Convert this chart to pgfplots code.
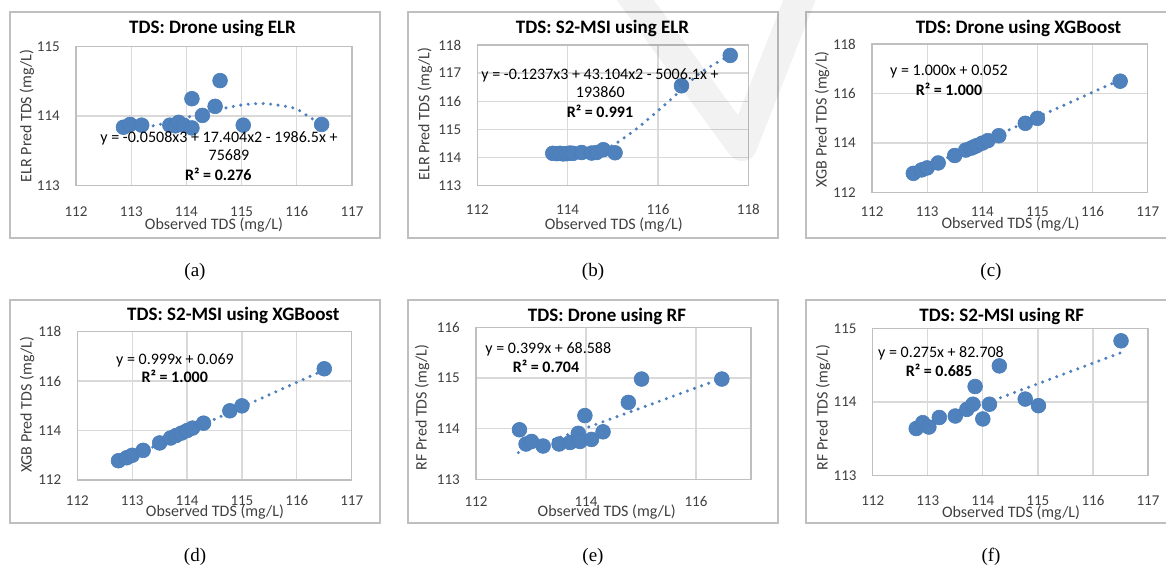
\documentclass[border=0pt]{standalone}
\usepackage{fontspec}
\setmainfont{Carlito}
\newfontfamily\capfont{Liberation Serif}
\usepackage{pgfplots}
\pgfplotsset{compat=1.18}

\definecolor{ptblue}{HTML}{4F81BD}
\definecolor{ptedge}{HTML}{4A7EBB}
\definecolor{framec}{HTML}{BFBFBF}
\definecolor{gridc}{HTML}{D9D9D9}
\definecolor{txt}{HTML}{404040}

\pgfplotsset{
  panel/.style={
    scale only axis, anchor=south west, clip=false,
    axis line style={draw=framec, line width=1.3pt},
    grid=major, grid style={draw=gridc, line width=1.3pt},
    major tick length=0pt,
    tick label style={font=\fontsize{15}{18}\selectfont, text=txt},
    /pgf/number format/assume math mode=true,
    yticklabel style={anchor=east, inner sep=0pt, xshift=-16pt},
    xticklabel style={anchor=base, inner sep=0pt, yshift=-#1},
  },
  pts/.style={only marks, mark=*, mark size=7.4pt,
    mark options={fill=ptblue, draw=ptedge, line width=0.6pt}},
  trend/.style={no marks, ptblue, line width=3.4pt, line cap=round,
    dash pattern=on 0pt off 7.5pt},
}
\tikzset{
  ttl/.style={font=\fontsize{19}{22}\selectfont\bfseries, anchor=base, inner sep=0pt},
  lab/.style={font=\fontsize{16}{19}\selectfont, text=txt, anchor=base, inner sep=0pt},
  eq/.style={font=\fontsize{16}{19}\selectfont, anchor=base, inner sep=0pt},
  subcap/.style={font=\capfont\fontsize{19}{22}\selectfont, anchor=base, inner sep=0pt},
  panelbox/.style={draw=framec, line width=2pt, fill=white},
}

\begin{document}
\begin{tikzpicture}[x=1pt, y=1pt]

% ---------- (a) Drone, ELR
\draw[panelbox] (10,328) rectangle (380,553.7);
\begin{axis}[panel=30.5pt, at={(76pt,380.3pt)}, width=276pt, height=139.2pt,
  xmin=112, xmax=117, ymin=113, ymax=115,
  xtick={112,...,117}, ytick={113,114,115}]
\addplot[pts] table {
x y
112.86 113.84
112.98 113.88
113.19 113.87
113.70 113.87
113.80 113.86
113.86 113.91
113.95 113.87
114.10 113.83
114.10 114.25
114.29 114.01
114.52 114.14
114.61 114.51
115.03 113.87
116.45 113.88
};
\addplot[trend, smooth] table {
x y
112.86 113.80
113.40 113.86
114.00 113.98
114.50 114.08
115.00 114.16
115.40 114.18
115.80 114.14
116.00 114.10
116.20 114.00
116.45 113.88
};
\end{axis}
\node[ttl] at (212.5,532.7) {TDS: Drone using ELR};
\node[lab] at (214,336.7) {Observed TDS (mg/L)};
\node[lab, rotate=90] at (31.5,450.2) {ELR Pred TDS (mg/L)};
\node[eq] at (219,423) {y = -0.0508x3 + 17.404x2 - 1986.5x +};
\node[eq] at (229,405.3) {75689};
\node[eq] at (218.3,385) {\textbf{R² = 0.276}};
\node[subcap] at (195,289.5) {(a)};

% ---------- (b) S2-MSI, ELR
\draw[panelbox] (408,328) rectangle (778,553.7);
\begin{axis}[panel=28.3pt, at={(477.3pt,380.3pt)}, width=271pt, height=140.7pt,
  xmin=112, xmax=118, ymin=113, ymax=118,
  xtick={112,114,116,118}, ytick={113,...,118}]
\addplot[pts] table {
x y
113.67 114.15
113.76 114.14
113.83 114.15
113.90 114.13
113.98 114.14
114.05 114.16
114.12 114.15
114.31 114.18
114.53 114.16
114.64 114.18
114.79 114.28
115.05 114.17
116.52 116.55
117.60 117.63
};
\addplot[trend, smooth] table {
x y
113.67 114.18
114.20 114.13
114.60 114.22
114.85 114.33
115.05 114.48
115.49 114.98
115.89 115.51
116.19 115.93
116.55 116.45
116.93 117.00
117.41 117.47
117.60 117.62
};
\end{axis}
\node[ttl] at (602.5,532.7) {TDS: S2-MSI using ELR};
\node[lab] at (613.8,336.7) {Observed TDS (mg/L)};
\node[lab, rotate=90] at (429.3,451.8) {ELR Pred TDS (mg/L)};
\node[eq] at (600,486.7) {y = -0.1237x3 + 43.104x2 - 5006.1x +};
\node[eq] at (600.3,468.3) {193860};
\node[eq] at (600,448.7) {\textbf{R² = 0.991}};
\node[subcap] at (593,289.5) {(b)};

% ---------- (c) Drone, XGBoost
\draw[panelbox] (806,328) rectangle (1176,553.7);
\begin{axis}[panel=23.3pt, at={(872pt,373.3pt)}, width=275.7pt, height=148.7pt,
  xmin=112, xmax=117, ymin=112, ymax=118,
  xtick={112,...,117}, ytick={112,114,116,118}]
\addplot[pts] table {
x y
112.75 112.78
112.90 112.92
113.00 113.00
113.20 113.20
113.50 113.50
113.70 113.72
113.80 113.80
113.85 113.85
113.90 113.90
114.00 114.00
114.10 114.10
114.30 114.30
114.78 114.80
115.00 115.00
116.50 116.50
};
\addplot[trend] table {
x y
112.75 112.80
116.50 116.55
};
\end{axis}
\node[ttl] at (1018.5,532.7) {TDS: Drone using XGBoost};
\node[lab] at (1010.5,337.7) {Observed TDS (mg/L)};
\node[lab, rotate=90] at (826.7,446.8) {XGB Pred TDS (mg/L)};
\node[eq] at (949,490) {y = 1.000x + 0.052};
\node[eq] at (949,470.3) {\textbf{R² = 1.000}};
\node[subcap] at (991,289.5) {(c)};

% ---------- (d) S2-MSI, XGBoost
\draw[panelbox] (10,43) rectangle (380,266);
\begin{axis}[panel=25pt, at={(77.3pt,86pt)}, width=274.4pt, height=148.3pt,
  xmin=112, xmax=117, ymin=112, ymax=118,
  xtick={112,...,117}, ytick={112,114,116,118}]
\addplot[pts] table {
x y
112.75 112.78
112.90 112.90
113.00 113.00
113.20 113.20
113.50 113.50
113.70 113.70
113.80 113.80
113.90 113.90
114.00 114.00
114.10 114.10
114.30 114.30
114.78 114.80
115.00 115.00
116.50 116.50
};
\addplot[trend] table {
x y
112.75 112.71
116.50 116.45
};
\end{axis}
\node[ttl] at (233.3,245.3) {TDS: S2-MSI using XGBoost};
\node[lab] at (215,49.3) {Observed TDS (mg/L)};
\node[lab, rotate=90] at (31.7,161) {XGB Pred TDS (mg/L)};
\node[eq] at (175,202) {y = 0.999x + 0.069};
\node[eq] at (174.7,183.7) {\textbf{R² = 1.000}};
\node[subcap] at (195,5) {(d)};

% ---------- (e) Drone, RF
\draw[panelbox] (408,43) rectangle (778,266);
\begin{axis}[panel=27pt, at={(476pt,86.5pt)}, width=275pt, height=152.2pt,
  xmin=112, xmax=117, ymin=113, ymax=116,
  xtick={112,114,116}, ytick={113,...,116}]
\addplot[pts] table {
x y
112.79 113.98
112.91 113.70
113.01 113.75
113.22 113.66
113.51 113.70
113.71 113.73
113.86 113.91
113.89 113.75
113.98 114.26
114.10 113.79
114.31 113.94
114.77 114.52
115.01 114.98
116.47 114.98
};
\addplot[trend] table {
x y
112.77 113.53
116.49 115.00
};
\end{axis}
\node[ttl] at (607,244.3) {TDS: Drone using RF};
\node[lab] at (606.7,49.3) {Observed TDS (mg/L)};
\node[lab, rotate=90] at (426.7,158.5) {RF Pred TDS (mg/L)};
\node[eq] at (548.3,212.7) {y = 0.399x + 68.588};
\node[eq] at (546,193.3) {\textbf{R² = 0.704}};
\node[subcap] at (593,5) {(e)};

% ---------- (f) S2-MSI, RF
\draw[panelbox] (806,43) rectangle (1176,266);
\begin{axis}[panel=29.3pt, at={(872.7pt,90.3pt)}, width=275.3pt, height=147.4pt,
  xmin=112, xmax=117, ymin=113, ymax=115,
  xtick={112,...,117}, ytick={113,114,115}]
\addplot[pts] table {
x y
112.79 113.64
112.91 113.72
113.02 113.66
113.21 113.79
113.50 113.81
113.71 113.90
113.82 113.97
113.86 114.21
114.00 113.77
114.12 113.97
114.30 114.49
114.77 114.04
115.01 113.95
116.51 114.83
};
\addplot[trend] table {
x y
112.79 113.63
116.51 114.67
};
\end{axis}
\node[ttl] at (1001.8,244.3) {TDS: S2-MSI using RF};
\node[lab] at (1011,48.3) {Observed TDS (mg/L)};
\node[lab, rotate=90] at (827.7,158.5) {RF Pred TDS (mg/L)};
\node[eq] at (941,208.3) {y = 0.275x + 82.708};
\node[eq] at (939,190) {\textbf{R² = 0.685}};
\node[subcap] at (991,5) {(f)};

% faint watermark
\draw[line width=30pt, black, opacity=0.05, line join=round]
  (625,580) -- (742,420) -- (805,580);

\pgfresetboundingbox
\useasboundingbox (0,0) rectangle (1166,566);
\end{tikzpicture}
\end{document}
